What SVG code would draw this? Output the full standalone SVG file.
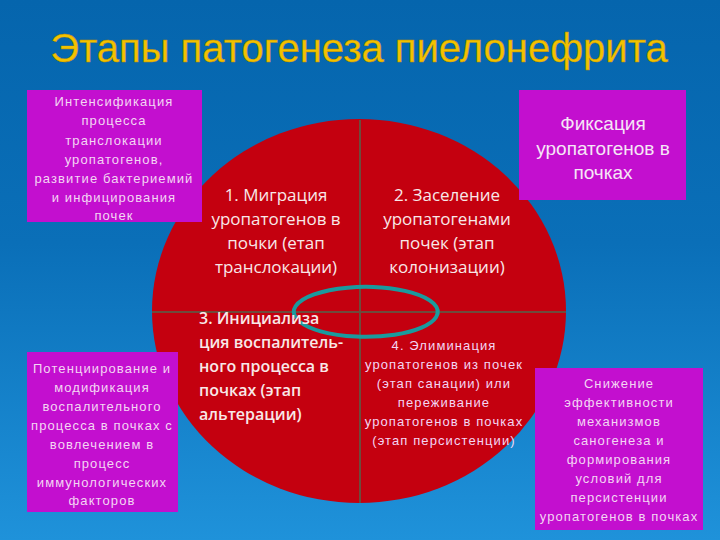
<svg xmlns="http://www.w3.org/2000/svg" width="720" height="540" viewBox="0 0 720 540">
<defs>
<linearGradient id="bg" x1="0" y1="0" x2="0" y2="1">
<stop offset="0" stop-color="#0565ad"/>
<stop offset="0.45" stop-color="#0a6fb8"/>
<stop offset="1" stop-color="#1f92da"/>
</linearGradient>
<style>
.box{fill:#c30fcf;}
.sm{font-family:"Liberation Sans",Arial,sans-serif;font-size:13px;letter-spacing:1.1px;fill:#f3d6f3;text-anchor:middle;}
.big{font-family:"Liberation Sans",Arial,sans-serif;font-size:19px;fill:#f6e6f6;text-anchor:middle;}
.q{font-family:"Open Sans","Liberation Sans",sans-serif;font-size:17px;fill:#f8e8e8;text-anchor:middle;}
.q3{font-family:"Open Sans","Liberation Sans",sans-serif;font-size:16px;font-weight:600;fill:#f8e8e8;}
.div{stroke:#6e4b3c;stroke-width:2;fill:none;}
</style>
</defs>
<rect width="720" height="540" fill="url(#bg)"/>
<text x="359" y="62" font-family="Liberation Sans,Arial,sans-serif" font-size="40" fill="#f2c200" stroke="#b88a00" stroke-width="0.4" text-anchor="middle">Этапы патогенеза пиелонефрита</text>

<g id="circle">
<ellipse cx="359" cy="311" rx="207" ry="192" fill="#c4000f"/>
</g>
<g id="connectors">
<line class="div" x1="360" y1="120" x2="360" y2="503"/>
<line class="div" x1="152" y1="312" x2="566" y2="312"/>
<path d="M 296 318 A 72 25 0 1 1 300 322" fill="none" stroke="#1a9a9e" stroke-width="4"/>
</g>

<g id="q1">
<text class="q" x="276" y="201">1. Миграция</text>
<text class="q" x="276" y="225">уропатогенов в</text>
<text class="q" x="276" y="249">почки (етап</text>
<text class="q" x="276" y="273">транслокации)</text>
</g>
<g id="q2">
<text class="q" x="447" y="201">2. Заселение</text>
<text class="q" x="447" y="225">уропатогенами</text>
<text class="q" x="447" y="249">почек (этап</text>
<text class="q" x="447" y="273">колонизации)</text>
</g>
<g id="q3">
<text class="q3" x="199" y="324">3. Инициализа</text>
<text class="q3" x="199" y="348">ция воспалитель-</text>
<text class="q3" x="199" y="372">ного процесса в</text>
<text class="q3" x="199" y="396">почках (этап</text>
<text class="q3" x="199" y="420">альтерации)</text>
</g>
<g id="q4">
<text class="sm" x="444" y="350">4. Элиминация</text>
<text class="sm" x="444" y="369">уропатогенов из почек</text>
<text class="sm" x="444" y="388">(этап санации) или</text>
<text class="sm" x="444" y="407">переживание</text>
<text class="sm" x="444" y="426">уропатогенов в почках</text>
<text class="sm" x="444" y="445">(этап персистенции)</text>
</g>

<g id="box-tl">
<rect class="box" x="27" y="90" width="175" height="132"/>
<text class="sm" x="114" y="106">Интенсификация</text>
<text class="sm" x="114" y="125">процесса</text>
<text class="sm" x="114" y="145">транслокации</text>
<text class="sm" x="114" y="164">уропатогенов,</text>
<text class="sm" x="114" y="183">развитие бактериемий</text>
<text class="sm" x="114" y="202">и инфицирования</text>
<text class="sm" x="114" y="220">почек</text>
</g>
<g id="box-tr">
<rect class="box" x="519" y="90" width="167" height="110"/>
<text class="big" x="603" y="130">Фиксация</text>
<text class="big" x="603" y="155">уропатогенов в</text>
<text class="big" x="603" y="179">почках</text>
</g>
<g id="box-bl">
<rect class="box" x="27" y="352" width="151" height="160"/>
<text class="sm" x="102" y="373">Потенциирование и</text>
<text class="sm" x="102" y="392">модификация</text>
<text class="sm" x="102" y="411">воспалительного</text>
<text class="sm" x="102" y="430">процесса в почках с</text>
<text class="sm" x="102" y="449">вовлечением в</text>
<text class="sm" x="102" y="468">процесс</text>
<text class="sm" x="102" y="487">иммунологических</text>
<text class="sm" x="102" y="505">факторов</text>
</g>
<g id="box-br">
<rect class="box" x="535" y="368" width="168" height="162"/>
<text class="sm" x="619" y="388">Снижение</text>
<text class="sm" x="619" y="407">эффективности</text>
<text class="sm" x="619" y="426">механизмов</text>
<text class="sm" x="619" y="445">саногенеза и</text>
<text class="sm" x="619" y="464">формирования</text>
<text class="sm" x="619" y="483">условий для</text>
<text class="sm" x="619" y="502">персистенции</text>
<text class="sm" x="619" y="521">уропатогенов в почках</text>
</g>
</svg>
